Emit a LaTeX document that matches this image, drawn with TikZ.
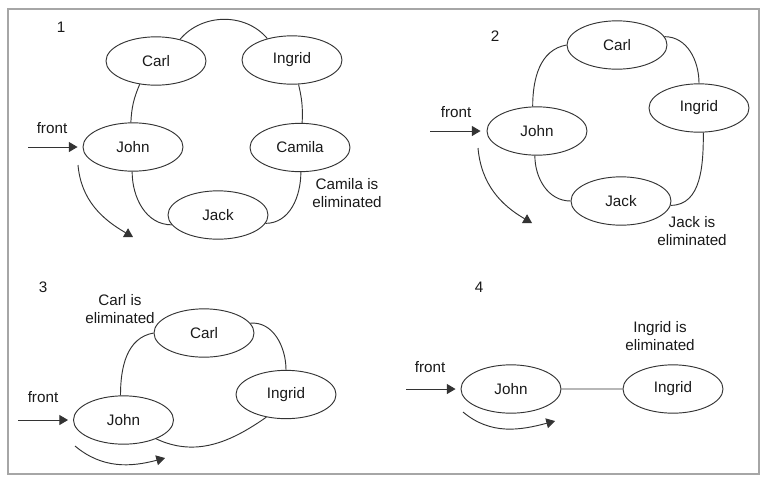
\documentclass[tikz,border=0pt]{standalone}
\usepackage{fontspec}
\setmainfont{Liberation Sans}
\usepackage{tikz}
\usetikzlibrary{shapes.geometric,arrows.meta}

\begin{document}
\begin{tikzpicture}[scale=0.3]
\tikzstyle{every node}+=[inner sep=0pt, font=\fontsize{13}{15.5}\selectfont, text=black!90]
\tikzstyle{person}=[draw=black!80, line width=0.8pt, ellipse, minimum width=3cm, minimum height=1.45cm]
\tikzstyle{link}=[draw=black!80, line width=0.8pt]
\tikzstyle{arr}=[link, -{Triangle[length=2.6mm,width=3mm]}]
\tikzstyle{note}=[align=center]
\useasboundingbox (0,0) rectangle (76.8,-48.7);
\draw [gray!70, line width=1.2pt] (0.8,-0.9) rectangle (75.9,-47.4);
% 1
\node (numA) at (6.1,-2.7) {1};
\node [person] (carlA) at (15.6,-6.1) {Carl};
\node [person] (ingridA) at (29.2,-6.0) {Ingrid};
\node [person] (johnA) at (13.3,-14.7) {John};
\node [person] (camilaA) at (30.0,-14.75) {Camila};
\node [person] (jackA) at (21.8,-21.5) {Jack};
\draw [link] (carlA.42) to[out=50,in=130] (ingridA.139);
\draw [link] (carlA.235) to[bend right=10] (johnA.95);
\draw [link] (ingridA.285) to[bend left=8] (camilaA.85);
\draw [link] (johnA.268) to[out=-90,in=180] (jackA.192);
\draw [link] (camilaA.272) to[out=-90,in=0] (jackA.350);
\coordinate (fA) at (2.8,-14.7);
\node (frontA) at (5.2,-12.8) {front};
\draw [arr, shorten >=1.5mm] (fA) -- (johnA.west);
\coordinate (rA1) at (7.8,-16.5);
\coordinate (rA2) at (13.3,-23.7);
\draw [arr] (rA1) to[out=-85,in=150] (rA2);
\node [note] (elimA) at (34.7,-19.3) {Camila is\\eliminated};
% 2
\node (numB) at (49.5,-3.6) {2};
\node [person] (carlB) at (61.7,-4.5) {Carl};
\node [person] (ingridB) at (69.9,-10.8) {Ingrid};
\node [person] (johnB) at (53.7,-13.1) {John};
\node [person] (jackB) at (62.1,-20.1) {Jack};
\draw [link] (johnB.100) to[out=90,in=190] (carlB.west);
\draw [link] (carlB.10) to[out=0,in=90] (ingridB.north);
\draw [link] (ingridB.280) to[out=-90,in=0] (jackB.355);
\draw [link] (johnB.265) to[out=-90,in=180] (jackB.west);
\coordinate (fB) at (43.0,-13.1);
\node (frontB) at (45.6,-11.2) {front};
\draw [arr, shorten >=1.8mm] (fB) -- (johnB.west);
\coordinate (rB1) at (47.8,-14.8);
\coordinate (rB2) at (53.2,-22.3);
\draw [arr] (rB1) to[out=-85,in=150] (rB2);
\node [note] (elimB) at (69.2,-23.1) {Jack is\\eliminated};
% 3
\node (numC) at (4.3,-28.7) {3};
\node [person] (carlC) at (20.4,-33.3) {Carl};
\node [person] (ingridC) at (28.6,-39.45) {Ingrid};
\node [person] (johnC) at (12.35,-42.0) {John};
\draw [link] (carlC.west) to[out=190,in=90] (johnC.97);
\draw [link] (carlC.12) to[out=5,in=90] (ingridC.north);
\draw [link] (johnC.-30) to[out=-25,in=215] (ingridC.229);
\coordinate (fC) at (1.8,-42.0);
\node (frontC) at (4.3,-39.7) {front};
\draw [arr, shorten >=1.5mm] (fC) -- (johnC.west);
\coordinate (rC1) at (7.5,-44.6);
\coordinate (rC2) at (16.5,-45.8);
\draw [arr] (rC1) to[out=-40,in=195] (rC2);
\node [note] (elimC) at (12.0,-30.9) {Carl is\\eliminated};
% 4
\node (numD) at (47.9,-28.7) {4};
\node [person] (johnD) at (51.1,-38.9) {John};
\node [person] (ingridD) at (67.3,-38.9) {Ingrid};
\draw [link] (johnD) -- (ingridD);
\coordinate (fD) at (40.6,-38.9);
\node (frontD) at (43.0,-36.7) {front};
\draw [arr, shorten >=1.5mm] (fD) -- (johnD.west);
\coordinate (rD1) at (46.3,-41.2);
\coordinate (rD2) at (55.5,-42.1);
\draw [arr] (rD1) to[out=-40,in=195] (rD2);
\node [note] (elimD) at (66.0,-33.6) {Ingrid is\\eliminated};
\end{tikzpicture}
\end{document}
